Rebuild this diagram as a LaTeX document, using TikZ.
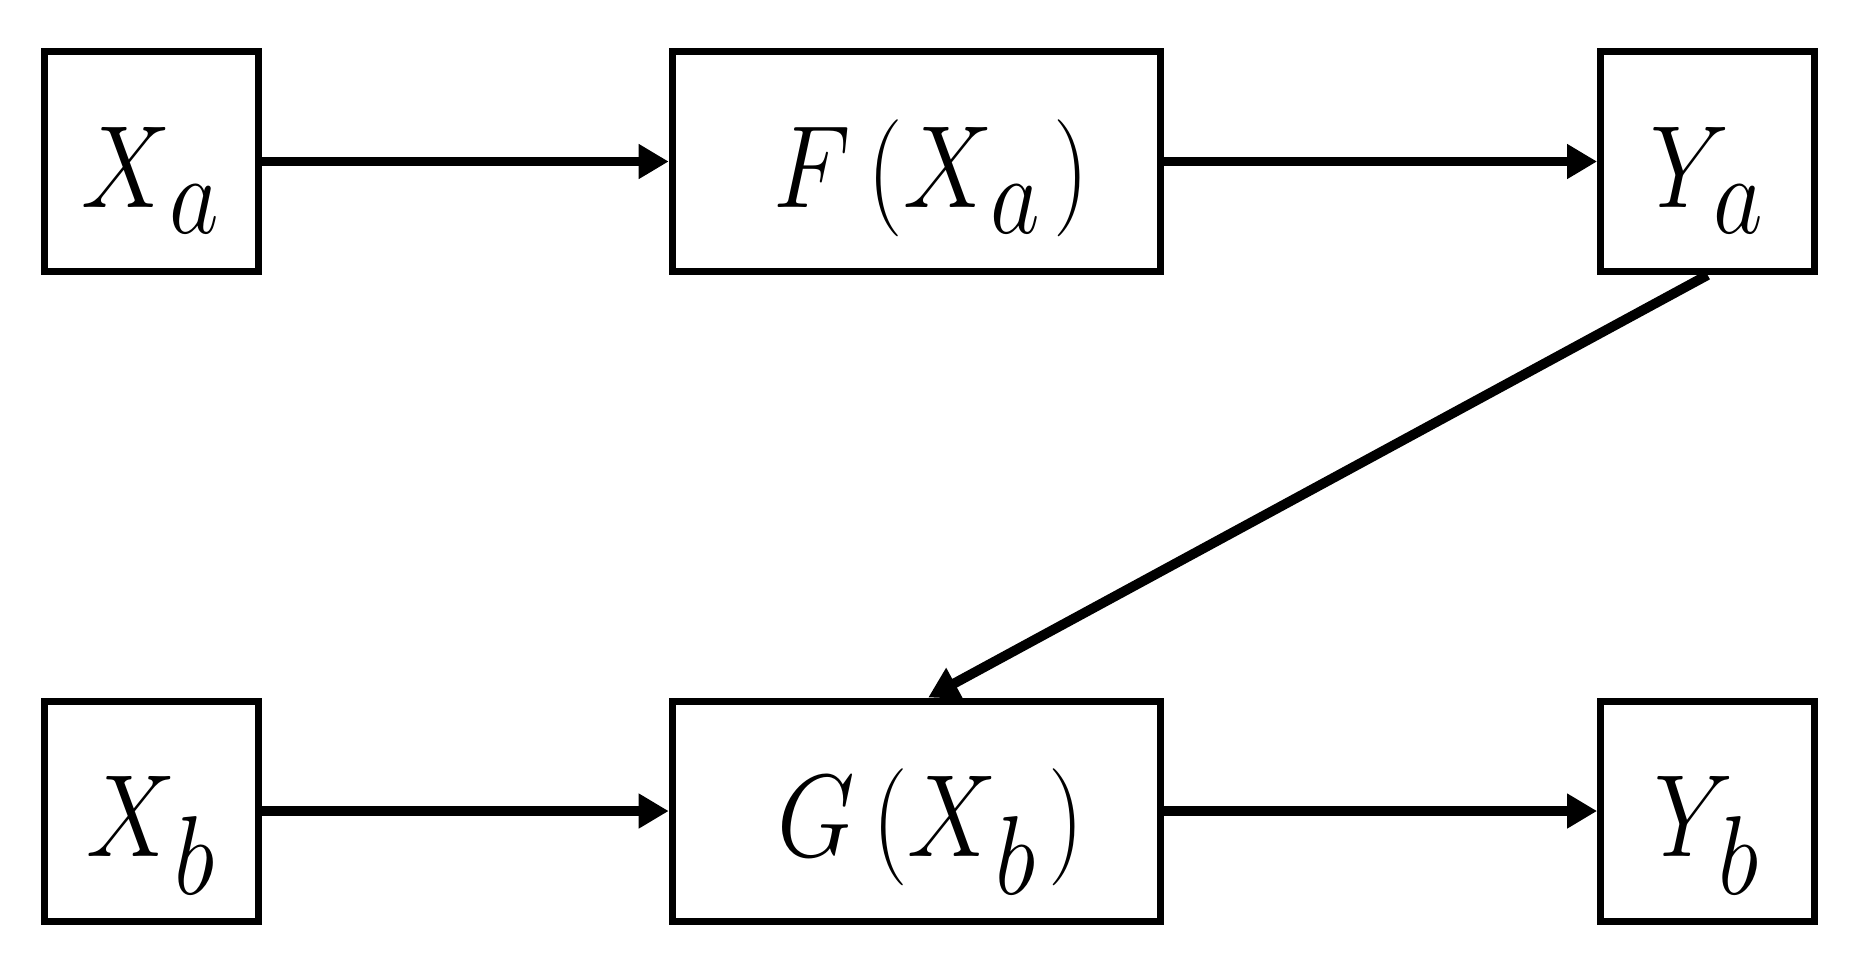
\documentclass[tikz,border=0pt]{standalone}
\usetikzlibrary{arrows.meta}
\newcommand{\mysub}[1]{\kern1.5pt\lower1.9pt\hbox{\scalebox{1.15}{$\scriptstyle #1$}}}
\newcommand{\mylbl}[1]{\scalebox{1.15}[1.34]{$#1$}}
\begin{document}
\begin{tikzpicture}[
  box/.style={draw=black, line width=2pt, minimum height=2.2cm, inner sep=0pt},
  small/.style={box, minimum width=2.14cm},
  wide/.style={box, minimum width=4.88cm},
  lbl/.style={anchor=base, inner sep=0pt, font=\Huge},
  conn/.style={line width=2.8pt, -{Triangle[length=0.3cm,width=0.33cm]}}
]
\useasboundingbox[fill=white] (0,0) rectangle (18.62,-9.57);
\node[small] (Xa) at (1.514,-1.615) {};
\node[wide]  (F)  at (9.162,-1.615) {};
\node[small] (Ya) at (17.076,-1.615) {};
\node[small] (Xb) at (1.514,-8.11) {};
\node[wide]  (G)  at (9.162,-8.11) {};
\node[small] (Yb) at (17.076,-8.11) {};
\node[lbl] (tXa) at ([yshift=-13pt]Xa.center) {\mylbl{X_{\mysub{a}}}};
\node[lbl] (tF)  at ([xshift=0.15cm,yshift=-13pt]F.center) {\mylbl{F\mkern3mu(X_{\mysub{a}}\mkern2mu)}};
\node[lbl] (tYa) at ([yshift=-13pt]Ya.center) {\mylbl{Y_{\mysub{a}}}};
\node[lbl] (tXb) at ([yshift=-13pt]Xb.center) {\mylbl{X_{\mysub{b}}}};
\node[lbl] (tG)  at ([xshift=0.15cm,yshift=-13pt]G.center) {\mylbl{G\mkern3mu(X_{\mysub{b}}\mkern2mu)}};
\node[lbl] (tYb) at ([yshift=-13pt]Yb.center) {\mylbl{Y_{\mysub{b}}}};
\draw[conn] (Xa) -- (F);
\draw[conn] (F) -- (Ya);
\draw[conn] (Xb) -- (G);
\draw[conn] (G) -- (Yb);
\draw[conn] (Ya.south) -- ([xshift=0.12cm]G.north);
\end{tikzpicture}
\end{document}
